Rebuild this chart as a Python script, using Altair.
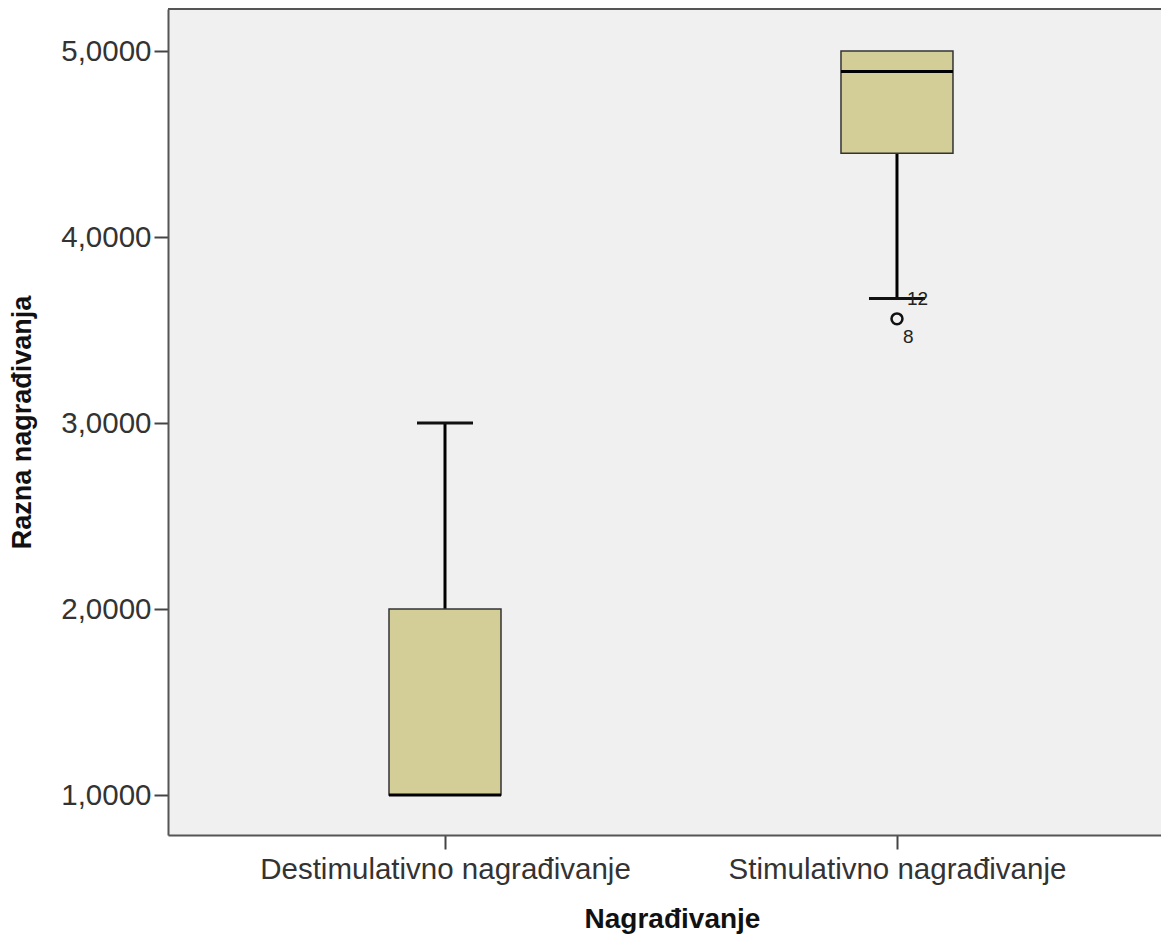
import altair as alt
import pandas as pd

categories = ["Destimulativno nagrađivanje", "Stimulativno nagrađivanje"]
whisker_low = [1.0, 3.67]
q1 = [1.0, 4.45]
median = [1.0, 4.89]
q3 = [2.0, 5.0]
whisker_high = [3.0, 5.0]

outlier_cat = ["Stimulativno nagrađivanje"]
outlier_val = [3.56]
outlier_lab = ["8"]

extreme_cat = ["Stimulativno nagrađivanje"]
extreme_val = [3.67]
extreme_lab = ["12"]

y_ticks = [1, 2, 3, 4, 5]
y_min, y_max = 0.785, 5.226

box = pd.DataFrame({"cat": categories, "lo": whisker_low, "q1": q1,
                    "med": median, "q3": q3, "hi": whisker_high})
outl = pd.DataFrame({"cat": outlier_cat, "v": outlier_val, "lab": outlier_lab})
extr = pd.DataFrame({"cat": extreme_cat, "v": extreme_val, "lab": extreme_lab})

FONT = "Liberation Sans"
W, H = 993, 826

xenc = alt.X("cat:N", sort=categories, title="Nagrađivanje",
             scale=alt.Scale(type="point", padding=0.5985, align=0.512),
             axis=alt.Axis(labelAngle=0, domain=True, domainColor="#555555",
                           domainWidth=2, grid=False, labelLimit=0,
                           tickSize=14, tickWidth=2, tickColor="#444444",
                           labelFont=FONT, labelFontSize=29.5, labelColor="#333333",
                           labelPadding=6,
                           titleFont=FONT, titleFontSize=28, titleFontWeight="bold",
                           titleColor="#111111", titleX=504, titleY=84,
                           titleBaseline="middle"))
yscale = alt.Scale(domain=[y_min, y_max], nice=False, zero=False)
yaxis = alt.Axis(values=y_ticks, domain=True, domainColor="#555555",
                 domainWidth=2, grid=False, tickSize=14,
                 tickWidth=2, tickColor="#444444",
                 labelFont=FONT, labelFontSize=29.5, labelColor="#333333",
                 labelPadding=3,
                 labelExpr="replace(format(datum.value, '.4f'), '.', ',')",
                 titleFont=FONT, titleFontSize=27, titleFontWeight="bold",
                 titleColor="#111111", titleX=-146, titleY=413,
                 titleAngle=270, titleAlign="center", titleBaseline="middle")

base = alt.Chart(box)

whisk = base.mark_rule(color="#000000", strokeWidth=3).encode(
    x=xenc,
    y=alt.Y("lo:Q", scale=yscale, axis=yaxis, title="Razna nagrađivanja"),
    y2="hi:Q")

top_border = alt.Chart(box).mark_rule(color="#555555", strokeWidth=2).encode(
    y=alt.datum(y_max))

bars = base.mark_bar(size=112, color="#D3CE97", stroke="#333333",
                     strokeWidth=1.5).encode(
    x="cat:N", y=alt.Y("q1:Q"), y2="q3:Q")

med = base.mark_tick(size=112, thickness=3, color="#000000", opacity=1).encode(
    x="cat:N", y="med:Q")

cap_lo = base.transform_filter("datum.lo < datum.q1").mark_tick(
    size=56, thickness=3, color="#111111", opacity=1).encode(
    x="cat:N", y="lo:Q")
cap_hi = base.transform_filter("datum.hi > datum.q3").mark_tick(
    size=56, thickness=3, color="#111111", opacity=1).encode(
    x="cat:N", y="hi:Q")

pts = alt.Chart(outl).mark_point(shape="circle", size=120, filled=False,
                                 color="#111111", strokeWidth=2.5,
                                 opacity=1).encode(
    x="cat:N", y="v:Q")

pt_lab = alt.Chart(outl).mark_text(align="left", baseline="middle", dx=6, dy=18,
                                   font=FONT, fontSize=19,
                                   color="#222222").encode(
    x="cat:N", y="v:Q", text="lab:N")

ex_lab = alt.Chart(extr).mark_text(align="left", baseline="middle", dx=10, dy=1,
                                   font=FONT, fontSize=19,
                                   color="#222222").encode(
    x="cat:N", y="v:Q", text="lab:N")

chart = alt.layer(whisk, top_border, bars, med, cap_lo, cap_hi, pts, pt_lab,
                  ex_lab).properties(
    width=W, height=H,
    autosize=alt.AutoSizeParams(type="none"),
    padding={"left": 160, "top": 1, "right": 0, "bottom": 103},
    background="#FFFFFF",
).configure_view(fill="#F0F0F0", stroke=None)

chart.save("out.html", embed_options={"renderer": "svg", "actions": False})
